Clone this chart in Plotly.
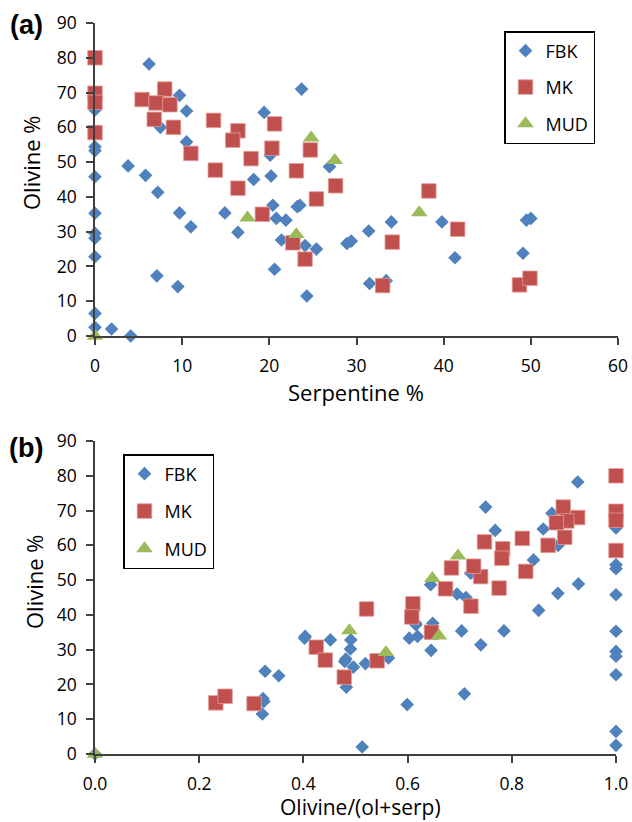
import plotly.graph_objects as go

# ---- Data: Serpentine % (x) and Olivine % (y) ----
fbk_serp = [6.2, 9.7, 10.5, 0, 7.5, 10.5, 0, 0, 0, 3.8, 5.8, 7.2, 19.4, 23.7, 20.1,
            20.2, 18.2, 26.9, 0, 0, 0, 0, 0, 0, 1.9, 4.1, 9.7, 11.0, 7.1, 9.5,
            14.9, 16.4, 20.4, 20.8, 21.9, 23.2, 23.5, 21.4, 20.6, 24.3, 25.4, 24.1,
            28.9, 29.4, 31.4, 34.0, 31.5, 33.4, 39.8, 41.3, 49.5, 50.0, 49.1]
fbk_ol = [78.2, 69.2, 64.7, 65.0, 60.0, 55.8, 54.4, 53.3, 45.8, 48.9, 46.2, 41.3, 64.3, 71.0, 52.0,
          46.0, 45.0, 48.7, 35.3, 29.5, 28.1, 22.8, 6.5, 2.5, 2.0, 0.0, 35.4, 31.4, 17.3, 14.2,
          35.4, 29.8, 37.6, 33.8, 33.3, 37.2, 37.6, 27.6, 19.2, 11.5, 25.0, 26.0,
          26.6, 27.3, 30.2, 32.8, 15.1, 15.9, 32.8, 22.5, 33.3, 33.8, 23.8]

mk_serp = [0, 0, 0, 0, 5.4, 8.0, 7.0, 8.6, 6.8, 9.0, 11.0, 13.6, 13.8, 16.4, 15.8, 16.4,
           17.9, 20.6, 20.3, 23.1, 24.7, 27.6, 25.4, 19.2, 22.7, 24.1, 38.3, 41.6, 34.1,
           33.0, 48.7, 49.9]
mk_ol = [80.0, 69.8, 67.2, 58.5, 68.0, 71.0, 67.0, 66.5, 62.3, 60.0, 52.5, 62.0, 47.7, 59.0, 56.3, 42.5,
         51.0, 61.0, 54.0, 47.5, 53.5, 43.2, 39.4, 35.0, 26.8, 22.1, 41.7, 30.7, 27.0,
         14.5, 14.7, 16.6]

mud_serp = [0, 24.8, 27.5, 17.5, 23.1, 37.2]
mud_ol = [0.0, 57.0, 50.5, 34.0, 29.2, 35.5]

series_names = ["FBK", "MK", "MUD"]
x_ticks_a = [0, 10, 20, 30, 40, 50, 60]
x_ticks_b = [0.0, 0.2, 0.4, 0.6, 0.8, 1.0]
y_ticks = [0, 10, 20, 30, 40, 50, 60, 70, 80, 90]


def ratio(ol, serp):
    # Olivine/(ol+serp); the sample with neither mineral is plotted at 0
    return [o / (o + s) if (o + s) > 0 else 0.0 for o, s in zip(ol, serp)]


FONT = "Open Sans"
AX = "#404040"
styles = {
    "FBK": dict(symbol="diamond", size=10.5, color="#4F81BD", line=dict(width=0)),
    "MK": dict(symbol="square", size=14.5, color="#C0504D", line=dict(width=0.8, color="#E49A98")),
    "MUD": dict(symbol="triangle-up", size=14.5, color="#9BBB59", line=dict(width=0)),
}

data_a = {"FBK": (fbk_serp, fbk_ol), "MK": (mk_serp, mk_ol), "MUD": (mud_serp, mud_ol)}

fig = go.Figure()
for name in series_names:
    serp, ol = data_a[name]
    fig.add_trace(go.Scatter(x=serp, y=ol, mode="markers", name=name, marker=styles[name],
                             xaxis="x", yaxis="y", legend="legend", legendgroup="a" + name,
                             cliponaxis=False))
for name in series_names:
    serp, ol = data_a[name]
    fig.add_trace(go.Scatter(x=ratio(ol, serp), y=ol, mode="markers", name=name,
                             marker=styles[name], xaxis="x2", yaxis="y2", legend="legend2",
                             legendgroup="b" + name, cliponaxis=False))

axis_common = dict(showline=True, linecolor=AX, linewidth=1.5, ticks="outside", ticklen=7,
                   tickwidth=1.5, tickcolor=AX, showgrid=False, zeroline=False,
                   tickfont=dict(family=FONT, size=17.5, color="#000"))

W, H = 632, 822


def note(text, x, y, size, family=FONT, angle=0):
    return dict(text=text, x=x / W, y=1 - y / H, xref="paper", yref="paper",
                xanchor="center", yanchor="middle", showarrow=False, textangle=angle,
                font=dict(family=family, size=size, color="#000"))


fig.update_layout(
    width=W, height=H, margin=dict(l=0, r=0, t=0, b=0, autoexpand=False),
    paper_bgcolor="white", plot_bgcolor="white",
    font=dict(family=FONT, color="#000"),
    xaxis=dict(domain=[95 / W, 618 / W], range=[0, 60], tickvals=x_ticks_a, anchor="y",
               ticklabelstandoff=6, **axis_common),
    yaxis=dict(domain=[1 - 336 / H, 1 - 23 / H], range=[0, 90], tickvals=y_ticks, anchor="x",
               ticklabelstandoff=6, **axis_common),
    xaxis2=dict(domain=[95 / W, 616 / W], range=[0, 1], tickvals=x_ticks_b, tickformat=".1f",
                anchor="y2", ticklabelstandoff=6, **axis_common),
    yaxis2=dict(domain=[1 - 754 / H, 1 - 441 / H], range=[0, 90], tickvals=y_ticks, anchor="x2",
                ticklabelstandoff=6, **axis_common),
    legend=dict(x=504 / W, y=1 - 31 / H, xanchor="left", yanchor="top", bgcolor="white",
                bordercolor="#000", borderwidth=1.5, font=dict(family=FONT, size=18),
                traceorder="grouped", tracegroupgap=10),
    legend2=dict(x=123 / W, y=1 - 454 / H, xanchor="left", yanchor="top", bgcolor="white",
                 bordercolor="#000", borderwidth=1.5, font=dict(family=FONT, size=18),
                 traceorder="grouped", tracegroupgap=11),
    annotations=[
        note("<b>(a)</b>", 26, 25, 27, family="Liberation Sans"),
        note("<b>(b)</b>", 26, 448, 27, family="Liberation Sans"),
        note("Olivine %", 31, 163, 22, angle=-90),
        note("Olivine %", 34, 582, 22, angle=-90),
        note("Serpentine %", 356, 392, 22),
        note("Olivine/(ol+serp)", 360, 807, 21),
    ],
)

fig.write_html("out.html")
